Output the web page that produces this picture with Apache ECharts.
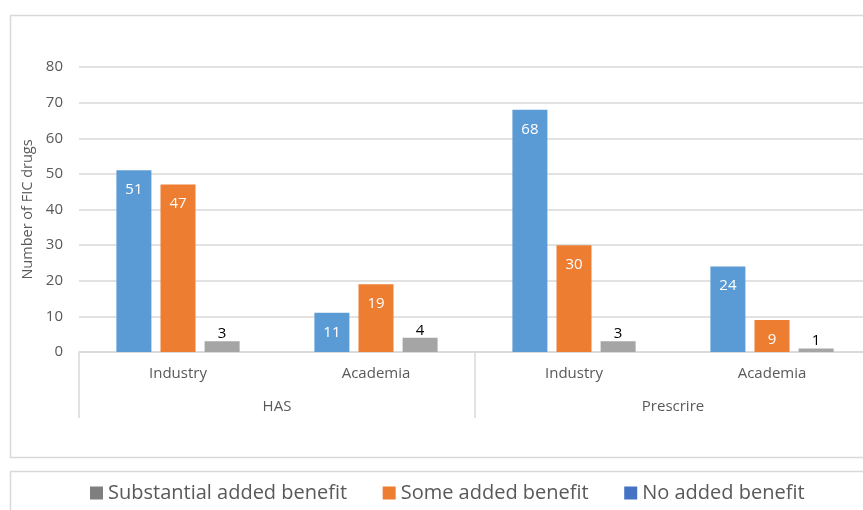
<!DOCTYPE html>
<html>
<head>
<meta charset="utf-8">
<script src="https://cdn.jsdelivr.net/npm/echarts@6/dist/echarts.min.js"></script>
<style>html,body{margin:0;padding:0;background:#fff;}#c{width:863px;height:510px;}</style>
</head>
<body>
<div id="c"></div>
<script>
const categories = ['Industry', 'Academia', 'Industry', 'Academia'];
const groups = ['HAS', 'Prescrire'];
const noBenefit = [51, 11, 68, 24];
const someBenefit = [47, 19, 30, 9];
const substantial = [3, 4, 3, 1];
const yTicks = [0, 10, 20, 30, 40, 50, 60, 70, 80];

const FONT = '"Open Sans", "Noto Sans", sans-serif';
const chart = echarts.init(document.getElementById('c'));
chart.setOption({
  animation: false,
  textStyle: { fontFamily: FONT },
  graphic: [
    { type: 'rect', shape: { x: 10.5, y: 15.5, width: 870, height: 442 }, style: { fill: 'none', stroke: '#d9d9d9', lineWidth: 1.5 }, silent: true },
    { type: 'rect', shape: { x: 10.5, y: 471.5, width: 870, height: 60 }, style: { fill: 'none', stroke: '#d9d9d9', lineWidth: 1.5 }, silent: true }
  ],
  legend: {
    top: 478,
    left: 85,
    itemWidth: 13,
    itemHeight: 13,
    itemGap: 35.5,
    icon: 'rect',
    textStyle: { fontSize: 20, color: '#595959', fontFamily: FONT },
    data: [
      { name: 'Substantial added benefit', itemStyle: { color: '#7f7f7f' } },
      { name: 'Some added benefit', itemStyle: { color: '#ED7D31' } },
      { name: 'No added benefit', itemStyle: { color: '#4472C4' } }
    ]
  },
  grid: { left: 79, width: 792, top: 67, height: 285, outerBoundsMode: 'none', containLabel: false },
  xAxis: [
    {
      type: 'category', data: categories,
      axisLine: { lineStyle: { color: '#d9d9d9', width: 1.5 } },
      axisTick: { show: false },
      axisLabel: { color: '#595959', fontSize: 15, margin: 14 }
    },
    {
      type: 'category', data: groups, position: 'bottom',
      axisLine: { show: false },
      axisTick: { show: true, length: 66, lineStyle: { color: '#d9d9d9', width: 1.5 } },
      axisLabel: { color: '#595959', fontSize: 15, margin: 47 }
    }
  ],
  yAxis: {
    type: 'value', min: 0, max: 80, interval: 10,
    name: 'Number of FIC drugs', nameLocation: 'middle', nameGap: 40,
    nameTextStyle: { color: '#595959', fontSize: 14.5 },
    axisLine: { show: false }, axisTick: { show: false },
    axisLabel: { color: '#595959', fontSize: 15, margin: 16, formatter: v => yTicks.includes(v) ? String(v) : '' },
    splitLine: { lineStyle: { color: '#d9d9d9', width: 1.5 } }
  },
  series: [
    {
      name: 'No added benefit', type: 'bar', data: noBenefit, barWidth: 35, barGap: '26%',
      itemStyle: { color: '#5B9BD5' },
      label: { show: true, position: 'insideTop', distance: 12, color: '#fff', fontSize: 15 }
    },
    {
      name: 'Some added benefit', type: 'bar', data: someBenefit, barWidth: 35, barGap: '26%',
      itemStyle: { color: '#ED7D31' },
      label: { show: true, position: 'insideTop', distance: 12, color: '#fff', fontSize: 15 }
    },
    {
      name: 'Substantial added benefit', type: 'bar', data: substantial, barWidth: 35, barGap: '26%',
      itemStyle: { color: '#A5A5A5' },
      label: { show: true, position: 'top', distance: 0, color: '#000', fontSize: 15 }
    }
  ]
});
</script>
</body>
</html>
